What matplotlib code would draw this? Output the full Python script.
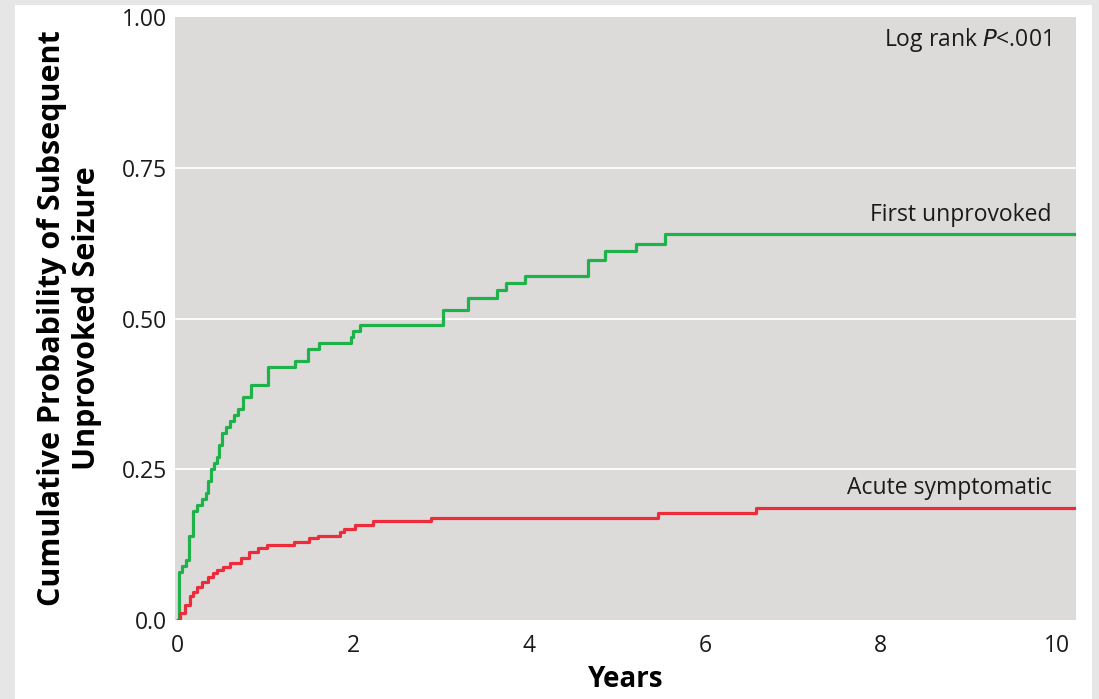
import matplotlib
matplotlib.use("Agg")
import matplotlib.pyplot as plt
from matplotlib.patches import Rectangle

# Data
first_t = [0, 0.01, 0.05, 0.09, 0.125, 0.18, 0.22, 0.28, 0.32, 0.34, 0.375, 0.41, 0.45,
           0.47, 0.51, 0.55, 0.60, 0.64, 0.69, 0.74, 0.83, 1.03, 1.34, 1.48, 1.61, 1.97,
           2.00, 2.08, 3.02, 3.30, 3.63, 3.74, 3.95, 4.67, 4.86, 5.22, 5.55, 10.22]
first_p = [0, 0.08, 0.09, 0.10, 0.14, 0.18, 0.19, 0.20, 0.21, 0.23, 0.25, 0.26, 0.27,
           0.29, 0.31, 0.32, 0.33, 0.34, 0.35, 0.37, 0.39, 0.42, 0.43, 0.45, 0.46, 0.47,
           0.48, 0.49, 0.514, 0.534, 0.547, 0.559, 0.570, 0.597, 0.612, 0.624, 0.640, 0.640]

acute_t = [0, 0.03, 0.08, 0.14, 0.18, 0.22, 0.28, 0.34, 0.40, 0.45, 0.52, 0.60, 0.72,
           0.81, 0.91, 1.02, 1.32, 1.49, 1.60, 1.85, 1.89, 2.02, 2.22, 2.88, 5.47, 6.58, 10.22]
acute_p = [0, 0.012, 0.025, 0.04, 0.046, 0.055, 0.063, 0.071, 0.078, 0.083, 0.088, 0.094,
           0.103, 0.113, 0.119, 0.124, 0.130, 0.136, 0.139, 0.146, 0.151, 0.157, 0.164,
           0.169, 0.177, 0.186, 0.186]

x_ticks = [0, 2, 4, 6, 8, 10]
y_ticks = [0.0, 0.25, 0.50, 0.75, 1.00]
y_ticklabels = ["0.0", "0.25", "0.50", "0.75", "1.00"]

plt.rcParams['font.family'] = ['Open Sans', 'DejaVu Sans']

fig = plt.figure(figsize=(10.99, 6.99), dpi=100)
fig.patch.set_facecolor('#e6e6e6')
fig.patches.append(Rectangle((15/1099, 0), (1092-15)/1099, (699-5)/699,
                             transform=fig.transFigure, facecolor='white',
                             edgecolor='none', zorder=-10))

ax = fig.add_axes([175/1099, 1-620/699, (1076-175)/1099, (620-17)/699])
ax.set_zorder(1)
ax.set_facecolor('#dcdbda')
for s in ax.spines.values():
    s.set_visible(False)

ax.set_xlim(-0.03, 10.22)
ax.set_ylim(0, 1.0)
ax.set_xticks(x_ticks)
ax.set_yticks(y_ticks)
ax.set_yticklabels(y_ticklabels)
ax.tick_params(length=0, labelsize=16.5, colors='#1a1a1a', pad=6)
ax.tick_params(axis='x', pad=10)
for yv in y_ticks[1:-1]:
    ax.axhline(yv, color='white', lw=1.3, zorder=1)

ax.step(first_t, first_p, where='post', color='#1fb24a', lw=2.3, zorder=3)
ax.step(acute_t, acute_p, where='post', color='#ee2b3b', lw=2.3, zorder=3)

ax.text(9.94, 0.672, "First unprovoked", ha='right', va='center', fontsize=16.5, color='#1a1a1a')
ax.text(9.94, 0.219, "Acute symptomatic", ha='right', va='center', fontsize=16.5, color='#1a1a1a')
ax.text(9.94, 0.962, "Log rank $\\it{P}$<.001", ha='right', va='center', fontsize=16.5, color='#1a1a1a')

ax.set_xlabel("Years", fontsize=20, fontweight='bold', labelpad=5)
ax.set_ylabel("Cumulative Probability of Subsequent\nUnprovoked Seizure", fontsize=22,
              fontweight='bold', labelpad=14, linespacing=1.2)

fig.savefig("out.png", dpi=100, facecolor=fig.get_facecolor())
